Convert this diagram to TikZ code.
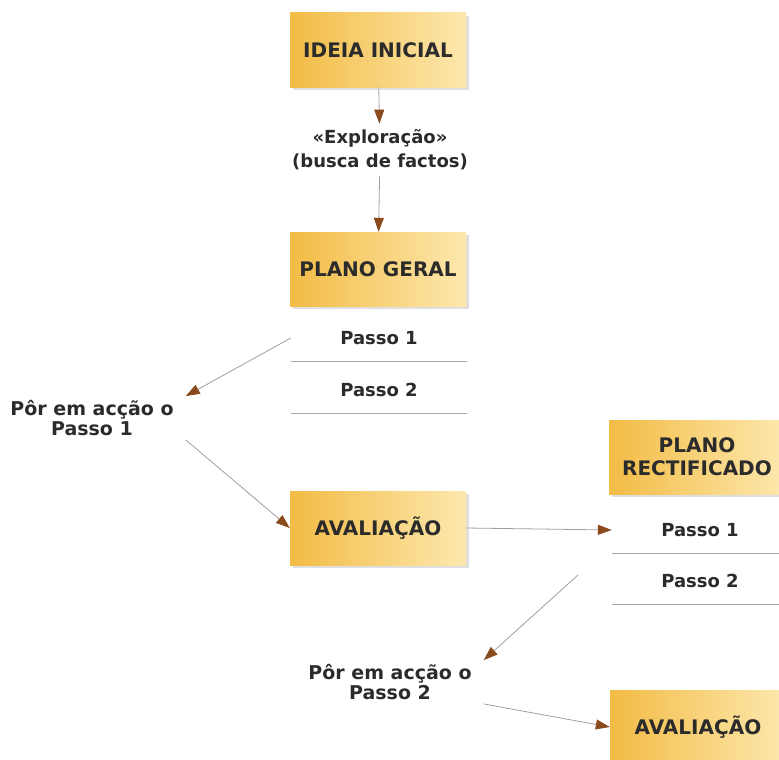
\documentclass[tikz,border=0pt]{standalone}
\usepackage{fontspec}
\setmainfont{DejaVu Sans}
\usetikzlibrary{arrows.meta,shadows}
\definecolor{boxleft}{HTML}{F2BC45}
\definecolor{boxright}{HTML}{FDE8AE}
\definecolor{tipbrown}{HTML}{8A4A1C}
\definecolor{inkgray}{HTML}{2B2B2B}
\tikzset{flow/.style = {draw=gray!75, line width=0.8pt, -{Triangle[length=14pt,width=10pt,color=tipbrown]}}}
\tikzset{sep/.style = {draw=gray!70, line width=1pt}}

\begin{document}
\begin{tikzpicture}[x=1pt,y=-1pt,
    every node/.style={font=\fontsize{18}{22}\selectfont\bfseries, text=inkgray},
    box/.style={minimum width=176pt, minimum height=74pt,
        font=\fontsize{20}{23}\selectfont\bfseries,
        left color=boxleft, right color=boxright,
        drop shadow={shadow xshift=3pt,shadow yshift=-3pt,fill=gray!50}},
    passo/.style={minimum width=176pt, minimum height=46pt, inner sep=0pt},
    txt/.style={align=center, inner xsep=12pt, inner ysep=4pt,
        font=\fontsize{19}{20}\selectfont\bfseries},
    ]
    \useasboundingbox (0,0) rectangle (779,760);
    \clip (0,0) rectangle (779,760);

    % Left column
    \node[box] (ideia) at (378,50) {IDEIA INICIAL};
    \node[txt, inner ysep=6pt, font=\fontsize{18}{24}\selectfont\bfseries] (explor) at (380,150)
        {«Exploração»\\(busca de factos)};
    \node[box] (plano) at (378,269) {PLANO GERAL};
    \node[passo] (p1) at (379,338) {Passo 1};
    \node[passo] (p2) at (379,390) {Passo 2};
    \draw[sep] (p1.south west) -- (p1.south east);
    \draw[sep] (p2.south west) -- (p2.south east);

    % Step 1
    \node[txt] (acao1) at (92,418) {Pôr em acção o\\Passo 1};
    \node[box] (aval1) at (378,528) {AVALIAÇÃO};

    % Right column
    \node[box, align=center] (rect) at (697,457) {PLANO\\RECTIFICADO};
    \node[passo] (rp1) at (700,530) {Passo 1};
    \node[passo] (rp2) at (700,581) {Passo 2};
    \draw[sep] (rp1.south west) -- (rp1.south east);
    \draw[sep] (rp2.south west) -- (rp2.south east);

    % Step 2
    \node[txt] (acao2) at (390,682) {Pôr em acção o\\Passo 2};
    \node[box] (aval2) at (698,727) {AVALIAÇÃO};
    \coordinate (c2) at (578,575);

    % Arrows
    \draw[flow] (ideia) -- (explor);
    \draw[flow] (explor) -- (plano);
    \draw[flow] (p1.west) -- (acao1.north east);
    \draw[flow] (acao1.south east) -- (aval1.west);
    \draw[flow] (aval1.east) -- (rp1.west);
    \draw[flow] (c2) -- (acao2.north east);
    \draw[flow] (acao2.south east) -- (aval2.west);

\end{tikzpicture}
\end{document}
